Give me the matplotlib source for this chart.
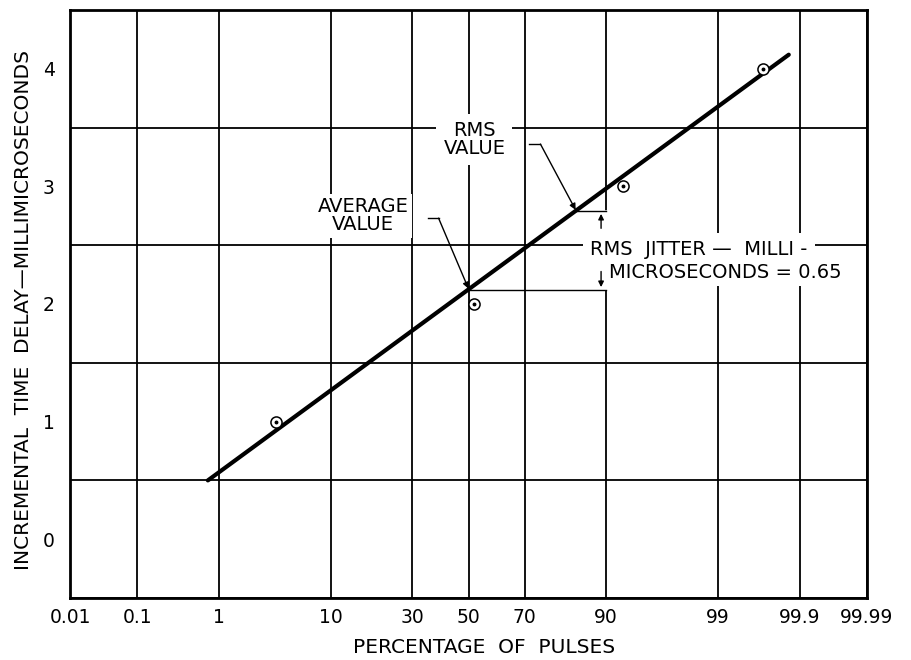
import numpy as np
import matplotlib
matplotlib.use("Agg")
import matplotlib.pyplot as plt
from statistics import NormalDist

# ---- data ----
x_ticks = [0.01, 0.1, 1, 10, 30, 50, 70, 90, 99, 99.9, 99.99]
x_tick_labels = ["0.01", "0.1", "1", "10", "30", "50", "70", "90", "99", "99.9", "99.99"]
y_ticks = [0, 1, 2, 3, 4]
y_tick_labels = ["0", "1", "2", "3", "4"]

point_pct = [3.6, 52.0, 92.5, 99.7]
point_delay = [1.0, 2.0, 3.0, 4.0]

fit_pct = [0.75, 99.86]
fit_delay = [0.5, 4.12]

avg_pct = 50.0
avg_value = 2.12
rms_pct = 84.13
rms_value = 2.79
dim_pct = 90.0

_nd = NormalDist()
_inv = np.vectorize(_nd.inv_cdf, otypes=[float])
_cdf = np.vectorize(_nd.cdf, otypes=[float])


def fwd(p):
    p = np.clip(np.asarray(p, dtype=float), 1e-7, 100 - 1e-7) / 100.0
    return _inv(p)


def inv(z):
    return _cdf(np.asarray(z, dtype=float)) * 100.0


plt.rcParams['font.family'] = ['DejaVu Sans']

fig = plt.figure(figsize=(9.11, 6.60), dpi=100)
ax = fig.add_axes([70 / 911, 1 - 598 / 660, 797 / 911, 588 / 660])
ax.set_xscale('function', functions=(fwd, inv))
ax.set_xlim(0.01, 99.99)
ax.set_ylim(-0.5, 4.5)

ax.set_xticks(x_ticks)
ax.set_xticklabels(x_tick_labels)
ax.xaxis.set_minor_locator(matplotlib.ticker.NullLocator())
ax.set_yticks(y_ticks)
ax.set_yticklabels(y_tick_labels)
ax.set_yticks(np.arange(-0.5, 4.6, 0.5), minor=True)

ax.tick_params(axis='both', which='both', length=0, labelsize=13.5)
ax.tick_params(axis='x', pad=7)
ax.tick_params(axis='y', pad=11)

ax.set_axisbelow(True)
ax.grid(True, axis='x', which='major', color='black', lw=1.3)
ax.grid(True, axis='y', which='minor', color='black', lw=1.3)
for s in ax.spines.values():
    s.set_linewidth(2.0)

# gap in the 90% grid line between dimension lines
ax.plot([dim_pct, dim_pct], [avg_value + 0.02, rms_value - 0.02], color='white', lw=4, zorder=1)

# fitted line and points
ax.plot(fit_pct, fit_delay, color='black', lw=3.0, solid_capstyle='round', zorder=4)
ax.plot(point_pct, point_delay, linestyle='none', marker='o', ms=8.0, mfc='white',
        mec='black', mew=1.1, zorder=5)
ax.plot(point_pct, point_delay, linestyle='none', marker='o', ms=1.8, color='black', zorder=6)

# dimension lines
ax.plot([avg_pct, dim_pct], [avg_value, avg_value], color='black', lw=1.0, zorder=3)
ax.plot([rms_pct, dim_pct], [rms_value, rms_value], color='black', lw=1.0, zorder=3)
ax.annotate('', xy=(89.2, rms_value), xytext=(89.2, 2.62),
            arrowprops=dict(arrowstyle='-|>', color='black', lw=1.0, mutation_scale=8), zorder=3)
ax.annotate('', xy=(89.2, avg_value), xytext=(89.2, 2.30),
            arrowprops=dict(arrowstyle='-|>', color='black', lw=1.0, mutation_scale=8), zorder=3)

tfont = dict(fontsize=14, color='black')

# AVERAGE VALUE label
ax.text(16.3, 2.75, "AVERAGE\nVALUE", ha='center', va='center', linespacing=0.95,
        bbox=dict(facecolor='white', edgecolor='none', pad=2.5), zorder=3.5, **tfont)
ax.plot([35.1, 39.0], [2.73, 2.73], color='black', lw=1.0, zorder=3)
ax.annotate('', xy=(avg_pct, avg_value + 0.01), xytext=(39.0, 2.73),
            arrowprops=dict(arrowstyle='-|>', color='black', lw=1.0, mutation_scale=9,
                            shrinkA=0, shrinkB=0), zorder=3)

# RMS VALUE label
ax.text(52.2, 3.40, "RMS\nVALUE", ha='center', va='center', linespacing=0.95,
        bbox=dict(facecolor='white', edgecolor='none', pad=5), zorder=3.5, **tfont)
ax.plot([71.3, 74.9], [3.36, 3.36], color='black', lw=1.0, zorder=3)
ax.annotate('', xy=(rms_pct, rms_value + 0.01), xytext=(74.9, 3.36),
            arrowprops=dict(arrowstyle='-|>', color='black', lw=1.0, mutation_scale=9,
                            shrinkA=0, shrinkB=0), zorder=3)

# RMS jitter text
ax.text(98.42, 2.46, "RMS  JITTER \u2014  MILLI -", ha='center', va='center',
        bbox=dict(facecolor='white', edgecolor='none', pad=5), zorder=3.5, **tfont)
ax.text(99.18, 2.27, "MICROSECONDS = 0.65", ha='center', va='center',
        bbox=dict(facecolor='white', edgecolor='none', pad=3), zorder=3.5, **tfont)

ax.set_xlabel("PERCENTAGE  OF  PULSES", fontsize=14.5)
ax.xaxis.set_label_coords((484 - 70) / 797, -0.068)
ax.set_ylabel("INCREMENTAL  TIME  DELAY\u2014MILLIMICROSECONDS", fontsize=14.5)
ax.yaxis.set_label_coords(-0.046, 0.49)

fig.savefig("out.png", dpi=100)
